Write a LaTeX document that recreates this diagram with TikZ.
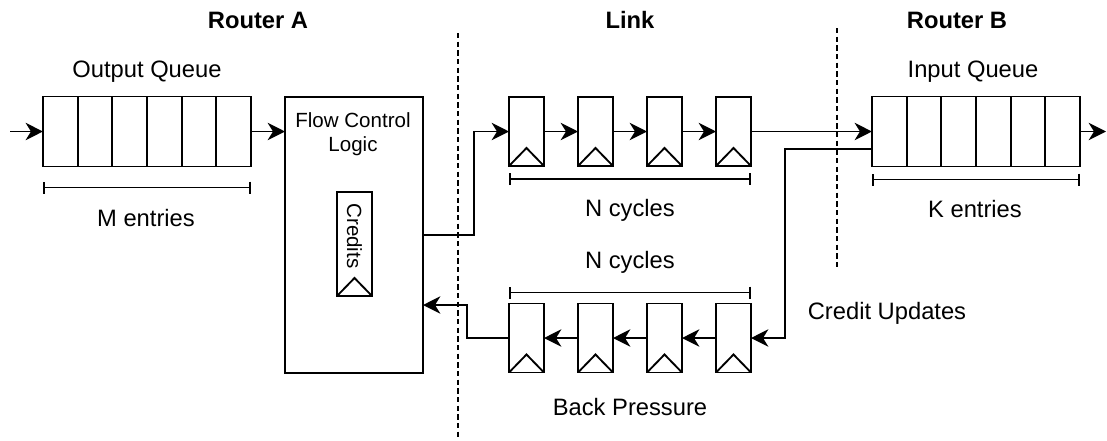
\documentclass[tikz,border=0pt]{standalone}
\usepackage{fontspec}
\setmainfont{Liberation Sans}
\usetikzlibrary{arrows.meta,positioning}

\tikzset{
  cell/.style={draw, minimum width=26pt, minimum height=52.5pt, inner sep=0pt, outer sep=0pt},
  reg/.style={draw, minimum width=26.25pt, minimum height=51.75pt, inner sep=0pt, outer sep=0pt,
    path picture={\draw (path picture bounding box.south west)
      -- ([yshift=13.5pt]path picture bounding box.south)
      -- (path picture bounding box.south east);}},
  flow/.style={-{Stealth[length=13pt,width=13pt,inset=4pt]}},
  span/.style={{Bar[width=9pt]}-{Bar[width=9pt]}},
  lbl/.style={font=\fontsize{17.8}{21}\selectfont},
  small/.style={font=\fontsize{15.4}{18}\selectfont},
  title/.style={font=\fontsize{17.8}{21}\selectfont\bfseries},
  border/.style={line width=1.1pt, dash pattern=on 4pt off 2.5pt},
}

\begin{document}
\begin{tikzpicture}[x=0.75pt,y=-0.75pt,line width=1.4pt]
  \useasboundingbox (0,0) rectangle (1107,440);

  % headings
  \node[title] (ra) at (258,20) {Router A};
  \node[title] (lk) at (630,20) {Link};
  \node[title] (rb) at (957,20) {Router B};

  \draw[border] (458,33) -- (458,440);
  \draw[border] (837,28) -- (837,268);

  % router A: output queue
  \node[lbl] (oqtxt) at (147,72) {Output Queue};
  \foreach \i in {0,...,5}
    \node[cell] (oq\i) at (60.3+34.67*\i,131.5) {};
  \coordinate (src) at (10,131.5);
  \draw[flow] (src) -- (oq0);
  \draw[span] ([yshift=-15.75pt]oq0.south west) -- ([yshift=-15.75pt]oq5.south east);
  \node[lbl] (mtxt) at (146,218) {M entries};

  % flow control logic
  \node[draw, minimum width=103.5pt, minimum height=207pt, inner sep=0pt, outer sep=0pt] (fcl) at (354,235) {};
  \node[small, align=center] (fcltxt) at (353,134) {Flow Control\\Logic};
  \node[reg, minimum height=78pt] (cred) at (354.5,244) {};
  \node[small, rotate=-90] (credtxt) at (354.5,236) {Credits};
  \draw[flow] (oq5.east) -- (oq5.east -| fcl.west);

  % link: forward pipeline
  \foreach \i in {0,...,3} {
    \node[reg] (tr\i) at (526.5+69*\i,131.5) {};
    \node[reg] (br\i) at (526.5+69*\i,338) {};
  }
  \foreach \i/\j in {0/1,1/2,2/3} {
    \draw[flow] (tr\i) -- (tr\j);
    \draw[flow] (br\j) -- (br\i);
  }
  \draw[flow] (fcl.east) -- ++(51,0) |- (tr0.west);
  \draw[span] ([yshift=-9.75pt]tr0.south west) -- ([yshift=-9.75pt]tr3.south east);
  \node[lbl] (ntop) at (630,210) {N cycles};

  % link: credit return
  \draw[flow] (br0.west) -- ++(-42,0) |- ([yshift=-52.5pt]fcl.east);
  \draw[span] ([yshift=8.25pt]br0.north west) -- ([yshift=8.25pt]br3.north east);
  \node[lbl] (nbot) at (630,262) {N cycles};
  \node[lbl] (bptxt) at (630,407) {Back Pressure};

  % router B: input queue
  \node[lbl] (iqtxt) at (973,72) {Input Queue};
  \foreach \i in {0,...,5}
    \node[cell] (iq\i) at (889.3+34.67*\i,131.5) {};
  \coordinate (sink) at (1106,131.5);
  \draw[flow] (tr3) -- (iq0);
  \draw[flow] (iq5) -- (sink);
  \draw[span] ([yshift=-9.75pt]iq0.south west) -- ([yshift=-9.75pt]iq5.south east);
  \node[lbl] (ktxt) at (975,209) {K entries};

  \draw[flow] ([yshift=-13.1pt]iq0.west) -- ++(-87,0) |- (br3.east);
  \node[lbl] (cutxt) at (887,313) {Credit Updates};
\end{tikzpicture}
\end{document}
